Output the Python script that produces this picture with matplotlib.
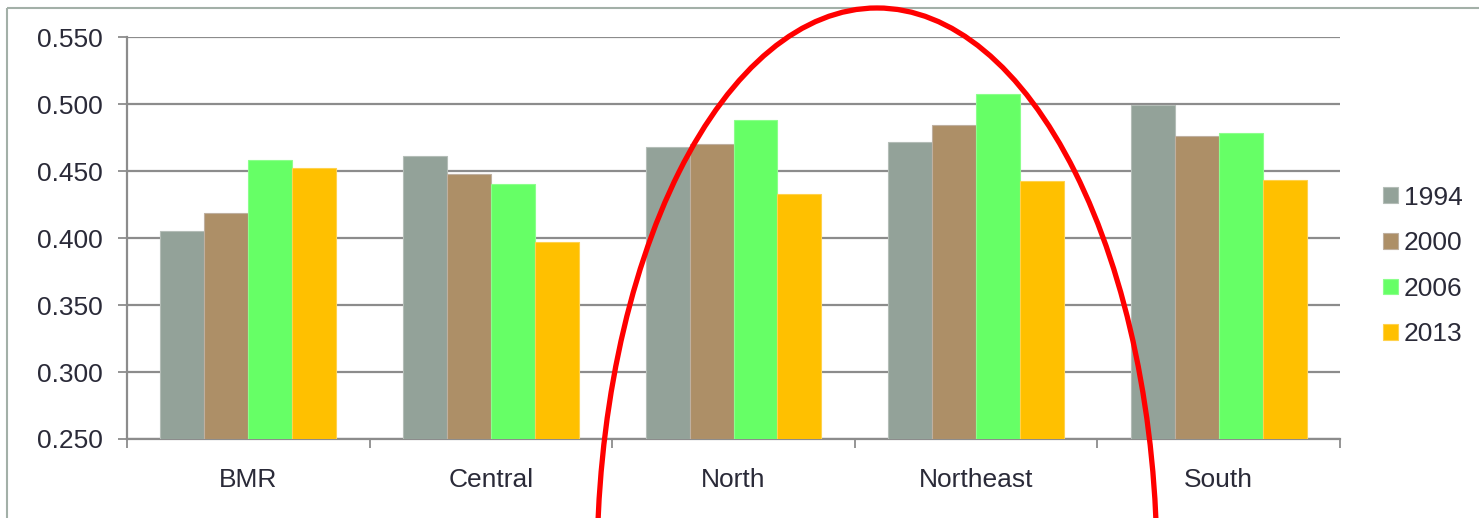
import numpy as np
import matplotlib
matplotlib.use("Agg")
import matplotlib.pyplot as plt
from matplotlib.patches import Ellipse, Rectangle

# --- data ---
regions = ["BMR", "Central", "North", "Northeast", "South"]
years = ["1994", "2000", "2006", "2013"]
v1994 = [0.405, 0.461, 0.468, 0.472, 0.499]
v2000 = [0.419, 0.448, 0.470, 0.4845, 0.476]
v2006 = [0.458, 0.440, 0.488, 0.5075, 0.478]
v2013 = [0.452, 0.397, 0.433, 0.4425, 0.443]
yticks = [0.250, 0.300, 0.350, 0.400, 0.450, 0.500, 0.550]

colors = ["#93A299", "#AD8F67", "#66FF66", "#FFC000"]
edges = ["#B4BDB7", "#BFB0A0", "#8CFF8C", "#FFD24D"]
text_col = "#2A2A38"
grid_col = "#8C8C8C"

plt.rcParams['font.family'] = ['Liberation Sans', 'DejaVu Sans']

W, H = 1479, 518
fig = plt.figure(figsize=(W / 100, H / 100), dpi=100)
ax = fig.add_axes([127 / W, 1 - 439 / H, (1340 - 127) / W, (439 - 37) / H])

x = np.arange(len(regions))
bw = 0.181
series = [v1994, v2000, v2006, v2013]
for i, (vals, lab) in enumerate(zip(series, years)):
    ax.bar(x + (i - 1.5) * bw, np.array(vals) - 0.25, bottom=0.25, width=bw,
           color=colors[i], edgecolor=edges[i], linewidth=0.8, label=lab, zorder=3)

ax.set_xlim(-0.5, len(regions) - 0.5)
ax.set_ylim(0.25, 0.55)
ax.set_yticks(yticks)
ax.set_yticklabels([f"{t:.3f}" for t in yticks])
ax.set_xticks(x)
ax.set_xticklabels(regions)
ax.set_xticks(np.arange(len(regions) + 1) - 0.5, minor=True)
ax.tick_params(axis='x', which='major', length=0, pad=21, labelsize=19, labelcolor=text_col)
ax.tick_params(axis='x', which='minor', length=6.5, width=1.3, color=grid_col)
ax.tick_params(axis='y', length=6.5, width=1.3, color=grid_col, pad=11, labelsize=19, labelcolor=text_col)

ax.grid(axis='y', color=grid_col, linewidth=1.6, zorder=0)
ax.set_axisbelow(True)
for s in ['top', 'right']:
    ax.spines[s].set_visible(False)
for s in ['left', 'bottom']:
    ax.spines[s].set_color(grid_col)
    ax.spines[s].set_linewidth(1.6)

fig.legend(loc='center left', bbox_to_anchor=(1383 / W, 1 - 266 / H), frameon=False,
           fontsize=19, labelcolor=text_col, handlelength=0.55, handleheight=0.55,
           handletextpad=0.25, labelspacing=0.82, borderpad=0, borderaxespad=0)

# overlay in pixel coordinates: outer frame and red hand-drawn ellipse
ov = fig.add_axes([0, 0, 1, 1], zorder=10)
ov.set_xlim(0, W)
ov.set_ylim(H, 0)
ov.axis('off')
ov.patch.set_alpha(0)
ov.add_patch(Rectangle((7, 8), 1600, 700, fill=False, edgecolor="#A3B0A8", linewidth=1.5))
ov.add_patch(Ellipse((877, 568), 560, 1120, fill=False, edgecolor="#FF0000", linewidth=3.8))

fig.savefig("out.png", dpi=100)
